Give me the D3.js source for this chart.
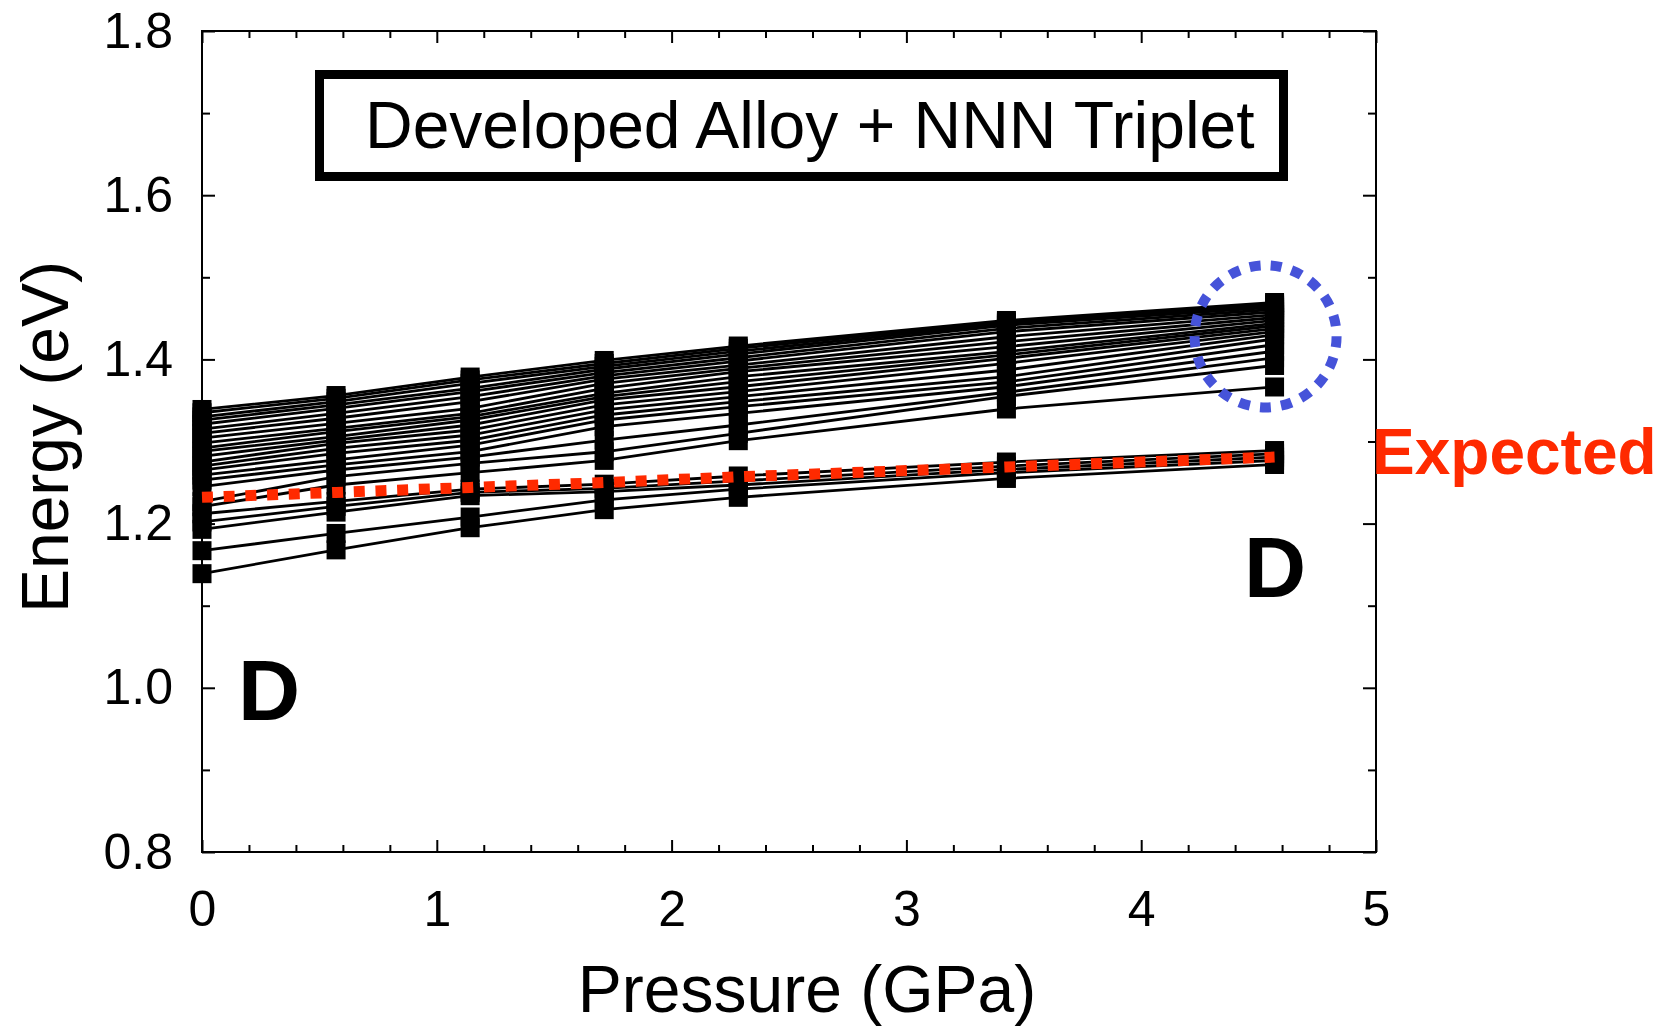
<!DOCTYPE html>
<html>
<head>
<meta charset="utf-8">
<script src="https://cdnjs.cloudflare.com/ajax/libs/d3/7.8.5/d3.min.js"></script>
<style>
  body { margin: 0; background: #fff; }
  text { font-family: "Liberation Sans", Arial, Helvetica, sans-serif; }
</style>
</head>
<body>
<svg id="chart" width="1665" height="1029"></svg>
<script>
// pressure points (GPa) where every configuration was computed
var pressure = [0, 0.571, 1.142, 1.713, 2.284, 3.426, 4.568];

// upper bundle of configurations, energy in eV (top to bottom)
var upperSeries = [
  [1.339, 1.356, 1.3785, 1.3987, 1.4163, 1.4474, 1.4693],
  [1.335, 1.3526, 1.375, 1.395, 1.4135, 1.4455, 1.4675],
  [1.330, 1.3485, 1.3709, 1.3915, 1.410, 1.4435, 1.4655],
  [1.326, 1.3445, 1.3648, 1.388, 1.4065, 1.4415, 1.4635],
  [1.321, 1.3404, 1.3607, 1.384, 1.402, 1.4378, 1.461],
  [1.315, 1.3343, 1.3546, 1.380, 1.398, 1.4337, 1.458],
  [1.310, 1.3283, 1.3485, 1.376, 1.393, 1.4276, 1.4545],
  [1.304, 1.3222, 1.3404, 1.3709, 1.389, 1.4216, 1.451],
  [1.298, 1.3161, 1.3343, 1.3648, 1.385, 1.4155, 1.4475],
  [1.292, 1.312, 1.3302, 1.3587, 1.3789, 1.4094, 1.444],
  [1.288, 1.3059, 1.3262, 1.3546, 1.3728, 1.4054, 1.441],
  [1.282, 1.3018, 1.3201, 1.3506, 1.3667, 1.4013, 1.4375],
  [1.275, 1.2978, 1.314, 1.3445, 1.3607, 1.3952, 1.434],
  [1.270, 1.2917, 1.3079, 1.3384, 1.3546, 1.3871, 1.430],
  [1.265, 1.2856, 1.3015, 1.3323, 1.3485, 1.3789, 1.425],
  [1.259, 1.2775, 1.2957, 1.3262, 1.3424, 1.3725, 1.418],
  [1.253, 1.2714, 1.2876, 1.318, 1.3343, 1.3667, 1.410],
  [1.245, 1.2653, 1.281, 1.3018, 1.3201, 1.360, 1.402],
  [1.2267, 1.2572, 1.2734, 1.2875, 1.310, 1.355, 1.3926],
  [1.2206, 1.247, 1.262, 1.277, 1.301, 1.3396, 1.3664]
];

// lower bundle of configurations (bottom to top)
var lowerSeries = [
  [1.139, 1.168, 1.195, 1.217, 1.232, 1.255, 1.272],
  [1.167, 1.188, 1.208, 1.229, 1.242, 1.262, 1.277],
  [1.193, 1.214, 1.234, 1.239, 1.247, 1.266, 1.281],
  [1.202, 1.221, 1.238, 1.243, 1.252, 1.270, 1.285],
  [1.212, 1.227, 1.242, 1.248, 1.258, 1.275, 1.289]
];

// red dotted "Expected" trend
var expected = [1.232, 1.238, 1.244, 1.250, 1.257, 1.269, 1.281];

// tick values
var xMajorTicks = [0, 1, 2, 3, 4, 5];
var xMinorTicks = [0.2, 0.4, 0.6, 0.8, 1.2, 1.4, 1.6, 1.8, 2.2, 2.4, 2.6, 2.8, 3.2, 3.4, 3.6, 3.8, 4.2, 4.4, 4.6, 4.8];
var yMajorTicks = [0.8, 1.0, 1.2, 1.4, 1.6, 1.8];
var yMinorTicks = [0.9, 1.1, 1.3, 1.5, 1.7];

var svg = d3.select('#chart');
var plotLeft = 202, plotRight = 1376, plotTop = 31, plotBottom = 852;

var x = d3.scaleLinear().domain([0, 5]).range([plotLeft, plotRight]);
var y = d3.scaleLinear().domain([0.8, 1.8]).range([plotBottom, plotTop]);

svg.append('rect').attr('width', 1665).attr('height', 1029).attr('fill', '#fff');

// axes: inward ticks on all four sides, labels only bottom/left
function styleAxis(g) {
  g.select('.domain').remove();
  g.selectAll('line').attr('stroke', '#000').attr('stroke-width', 2);
  g.selectAll('text').attr('fill', '#000').attr('font-size', 50)
    .style('font-family', '"Liberation Sans", Arial, Helvetica, sans-serif');
}

svg.append('g').attr('transform', 'translate(0,' + plotBottom + ')')
  .call(d3.axisBottom(x).tickValues(xMajorTicks).tickSize(-12).tickPadding(38).tickFormat(d3.format('d')))
  .call(styleAxis);
svg.append('g').attr('transform', 'translate(0,' + plotBottom + ')')
  .call(d3.axisBottom(x).tickValues(xMinorTicks).tickSize(-7).tickFormat(''))
  .call(styleAxis);
svg.append('g').attr('transform', 'translate(0,' + plotTop + ')')
  .call(d3.axisTop(x).tickValues(xMajorTicks).tickSize(-12).tickFormat(''))
  .call(styleAxis);
svg.append('g').attr('transform', 'translate(0,' + plotTop + ')')
  .call(d3.axisTop(x).tickValues(xMinorTicks).tickSize(-7).tickFormat(''))
  .call(styleAxis);

svg.append('g').attr('transform', 'translate(' + plotLeft + ',0)')
  .call(d3.axisLeft(y).tickValues(yMajorTicks).tickSize(-13).tickPadding(29).tickFormat(d3.format('.1f')))
  .call(styleAxis);
svg.append('g').attr('transform', 'translate(' + plotLeft + ',0)')
  .call(d3.axisLeft(y).tickValues(yMinorTicks).tickSize(-8).tickFormat(''))
  .call(styleAxis);
svg.append('g').attr('transform', 'translate(' + plotRight + ',0)')
  .call(d3.axisRight(y).tickValues(yMajorTicks).tickSize(-13).tickFormat(''))
  .call(styleAxis);
svg.append('g').attr('transform', 'translate(' + plotRight + ',0)')
  .call(d3.axisRight(y).tickValues(yMinorTicks).tickSize(-8).tickFormat(''))
  .call(styleAxis);

// plot frame
svg.append('rect')
  .attr('x', plotLeft).attr('y', plotTop)
  .attr('width', plotRight - plotLeft).attr('height', plotBottom - plotTop)
  .attr('fill', 'none').attr('stroke', '#000').attr('stroke-width', 2);

// axis titles
svg.append('text')
  .attr('x', 807).attr('y', 1012)
  .attr('text-anchor', 'middle').attr('font-size', 66)
  .text('Pressure (GPa)');
svg.append('text')
  .attr('transform', 'translate(68,437) rotate(-90)')
  .attr('text-anchor', 'middle').attr('font-size', 66)
  .text('Energy (eV)');

// legend box
svg.append('rect')
  .attr('x', 319.5).attr('y', 74.5).attr('width', 964).attr('height', 102)
  .attr('fill', '#fff').attr('stroke', '#000').attr('stroke-width', 9);
svg.append('text')
  .attr('x', 365).attr('y', 148).attr('font-size', 66)
  .text('Developed Alloy + NNN Triplet');

// data lines + square markers
var allSeries = upperSeries.concat(lowerSeries);
var line = d3.line().x((d, i) => x(pressure[i])).y(d => y(d));

var plot = svg.append('g');
plot.selectAll('.series')
  .data(allSeries)
  .enter().append('path')
  .attr('class', 'series')
  .attr('d', line)
  .attr('fill', 'none')
  .attr('stroke', '#000')
  .attr('stroke-width', 2.8);

var ms = 19;
allSeries.forEach(function (s) {
  plot.selectAll(null)
    .data(s)
    .enter().append('rect')
    .attr('x', (d, i) => x(pressure[i]) - ms / 2)
    .attr('y', d => y(d) - ms / 2)
    .attr('width', ms).attr('height', ms)
    .attr('fill', '#000');
});

// expected trend (red dotted)
svg.append('path')
  .datum(expected)
  .attr('d', line)
  .attr('fill', 'none')
  .attr('stroke', '#ff2a00')
  .attr('stroke-width', 11)
  .attr('stroke-dasharray', '11 10.7');

// blue dotted circle around the high-pressure cluster
svg.append('circle')
  .attr('cx', x(4.568) - 9).attr('cy', y(1.428))
  .attr('r', 71)
  .attr('fill', 'none')
  .attr('stroke', '#4653d9')
  .attr('stroke-width', 10)
  .attr('stroke-dasharray', '11 10.2');

// annotations
svg.append('text')
  .attr('x', 1372).attr('y', 474)
  .attr('font-size', 64).attr('font-weight', 'bold').attr('fill', '#ff2a00')
  .text('Expected');
svg.append('text')
  .attr('x', 238).attr('y', 720)
  .attr('font-size', 86).attr('font-weight', 'bold')
  .text('D');
svg.append('text')
  .attr('x', 1244).attr('y', 597)
  .attr('font-size', 86).attr('font-weight', 'bold')
  .text('D');
</script>
</body>
</html>
